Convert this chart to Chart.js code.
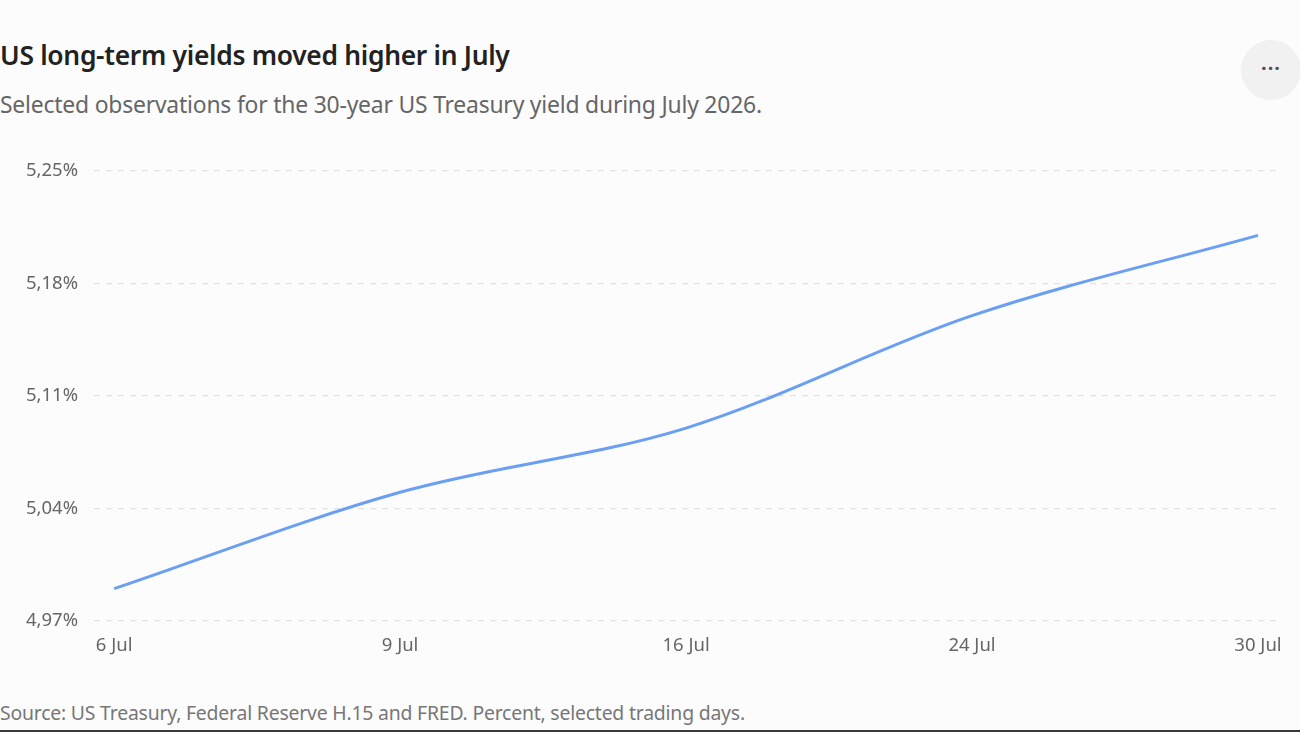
<!DOCTYPE html>
<html>
<head>
<meta charset="utf-8">
<script src="https://cdn.jsdelivr.net/npm/chart.js@4"></script>
<style>
  html, body { margin:0; padding:0; }
  body { width:1300px; height:732px; background:#fcfcfc; font-family:"Noto Sans", "Open Sans", sans-serif; position:relative; overflow:hidden; border-bottom:2px solid #3a3a3a; box-sizing:border-box; }
  h1 { position:absolute; left:0; top:37px; margin:0; font-size:26.4px; font-weight:600; color:#222; letter-spacing:-0.3px; }
  .sub { position:absolute; left:0; top:89px; margin:0; font-size:22.9px; color:#666; letter-spacing:-0.2px; }
  .more { position:absolute; left:1241px; top:40px; width:60px; height:60px; border-radius:50%; background:#f1f1f1; color:#555; font-size:20px; text-align:center; line-height:56px; font-weight:700; letter-spacing:1px; }
  .wrap { position:absolute; left:0; top:144px; width:1300px; height:519px; }
  .src { position:absolute; left:0; top:699px; margin:0; font-size:19.4px; color:#777; letter-spacing:-0.2px; }
</style>
</head>
<body>
<h1>US long-term yields moved higher in July</h1>
<p class="sub">Selected observations for the 30-year US Treasury yield during July 2026.</p>
<div class="more">&middot;&middot;&middot;</div>
<div class="wrap"><canvas id="c"></canvas></div>
<p class="src">Source: US Treasury, Federal Reserve H.15 and FRED. Percent, selected trading days.</p>
<script>
const dates = ['6 Jul', '9 Jul', '16 Jul', '24 Jul', '30 Jul'];
const yields = [4.99, 5.05, 5.09, 5.16, 5.21];
const yTicks = [4.97, 5.04, 5.11, 5.18, 5.25];

const fmt = v => v.toFixed(2).replace('.', ',') + '%';

new Chart(document.getElementById('c').getContext('2d'), {
  type: 'line',
  data: {
    datasets: [{
      data: yields.map((v, i) => ({ x: i, y: v })),
      borderColor: '#6a9ff3',
      borderWidth: 3,
      pointRadius: 0,
      tension: 0.4,
      cubicInterpolationMode: 'monotone',
      fill: false
    }]
  },
  options: {
    responsive: true,
    maintainAspectRatio: false,
    animation: false,
    layout: { padding: { left: 10, right: 18, top: 5, bottom: 0 } },
    scales: {
      x: {
        type: 'linear',
        min: -0.07,
        max: 4.084,
        afterBuildTicks: s => { s.ticks = dates.map((d, i) => ({ value: i })); },
        ticks: {
          autoSkip: false,
          maxRotation: 0,
          padding: 6,
          color: '#666',
          font: { family: 'Noto Sans', size: 18.5 },
          callback: v => dates[v]
        },
        grid: { display: false },
        border: { display: false }
      },
      y: {
        min: 4.97,
        max: 5.25,
        afterBuildTicks: s => { s.ticks = yTicks.map(v => ({ value: v })); },
        ticks: {
          padding: 16,
          color: '#666',
          font: { family: 'Noto Sans', size: 18.5 },
          callback: v => fmt(v)
        },
        grid: { color: '#e3e3e3', lineWidth: 1.3, drawTicks: false },
        border: { display: false, dash: [6, 6] }
      }
    },
    plugins: { legend: { display: false }, tooltip: { enabled: false } }
  }
});
</script>
</body>
</html>
